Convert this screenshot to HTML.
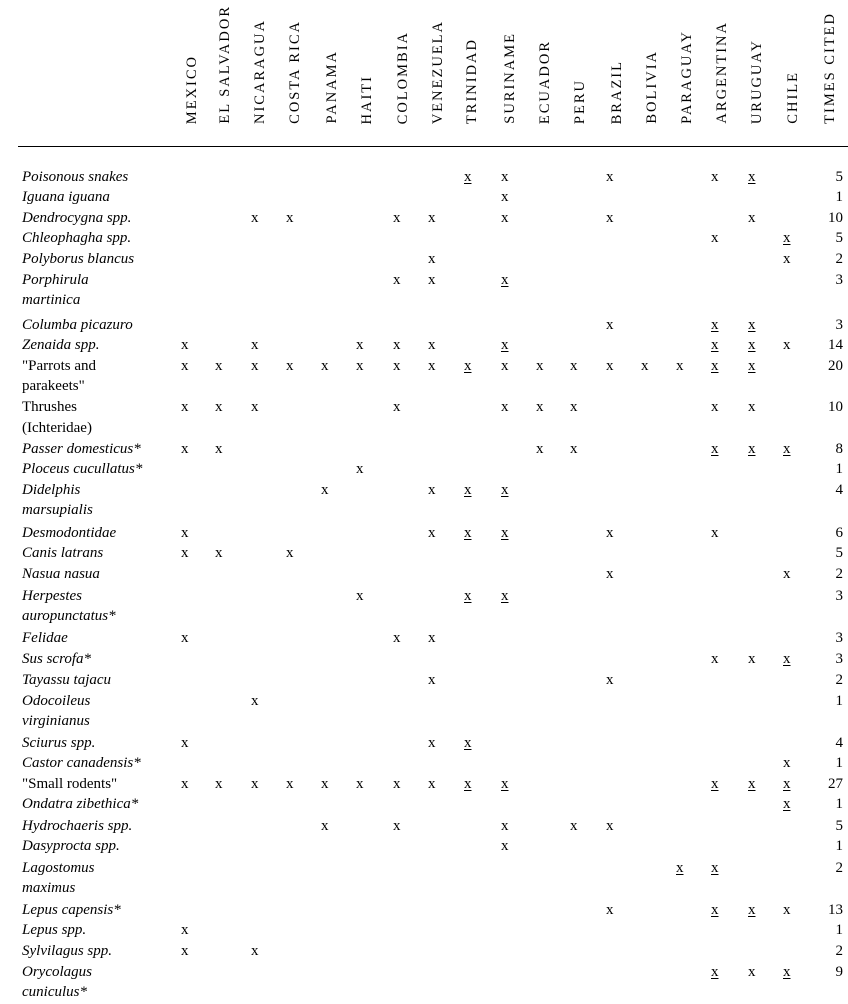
<!DOCTYPE html>
<html><head><meta charset="utf-8"><style>
body{margin:0;width:848px;height:1004px;background:#fff;position:relative;overflow:hidden;font-family:"Liberation Serif",serif;color:#000;font-size:15px}
.h{position:absolute;bottom:880px;writing-mode:vertical-rl;transform:rotate(180deg);font-size:14.5px;letter-spacing:2px;line-height:18px;white-space:nowrap;width:18px}
.r{position:absolute;left:0;width:848px;height:20px;line-height:20px}
.r span{position:absolute;top:0}
.l{left:22px;font-style:italic}
.n{left:22px}
.c{right:5px}
u{text-decoration:underline;text-underline-offset:2px}
</style></head><body>
<div class="h" style="left:183px">MEXICO</div>
<div class="h" style="left:216px">EL SALVADOR</div>
<div class="h" style="left:251px">NICARAGUA</div>
<div class="h" style="left:286px">COSTA RICA</div>
<div class="h" style="left:323px">PANAMA</div>
<div class="h" style="left:358px">HAITI</div>
<div class="h" style="left:394px">COLOMBIA</div>
<div class="h" style="left:429px">VENEZUELA</div>
<div class="h" style="left:463px">TRINIDAD</div>
<div class="h" style="left:501px">SURINAME</div>
<div class="h" style="left:536px">ECUADOR</div>
<div class="h" style="left:571px">PERU</div>
<div class="h" style="left:608px">BRAZIL</div>
<div class="h" style="left:643px">BOLIVIA</div>
<div class="h" style="left:678px">PARAGUAY</div>
<div class="h" style="left:713px">ARGENTINA</div>
<div class="h" style="left:748px">URUGUAY</div>
<div class="h" style="left:784px">CHILE</div>
<div class="h" style="left:821px">TIMES CITED</div>
<div style="position:absolute;left:18px;top:146px;width:830px;height:1px;background:#000"></div>

<div class="r" style="top:167px"><span class="l">Poisonous snakes</span><span style="left:464px"><u>x</u></span><span style="left:501px">x</span><span style="left:606px">x</span><span style="left:711px">x</span><span style="left:748px"><u>x</u></span><span class="c">5</span></div>
<div class="r" style="top:187px"><span class="l">Iguana iguana</span><span style="left:501px">x</span><span class="c">1</span></div>
<div class="r" style="top:208px"><span class="l">Dendrocygna spp.</span><span style="left:251px">x</span><span style="left:286px">x</span><span style="left:393px">x</span><span style="left:428px">x</span><span style="left:501px">x</span><span style="left:606px">x</span><span style="left:748px">x</span><span class="c">10</span></div>
<div class="r" style="top:228px"><span class="l">Chleophagha spp.</span><span style="left:711px">x</span><span style="left:783px"><u>x</u></span><span class="c">5</span></div>
<div class="r" style="top:249px"><span class="l">Polyborus blancus</span><span style="left:428px">x</span><span style="left:783px">x</span><span class="c">2</span></div>
<div class="r" style="top:270px"><span class="l">Porphirula</span><span style="left:393px">x</span><span style="left:428px">x</span><span style="left:501px"><u>x</u></span><span class="c">3</span></div>
<div class="r" style="top:290px"><span class="l">martinica</span></div>
<div class="r" style="top:315px"><span class="l">Columba picazuro</span><span style="left:606px">x</span><span style="left:711px"><u>x</u></span><span style="left:748px"><u>x</u></span><span class="c">3</span></div>
<div class="r" style="top:335px"><span class="l">Zenaida spp.</span><span style="left:181px">x</span><span style="left:251px">x</span><span style="left:356px">x</span><span style="left:393px">x</span><span style="left:428px">x</span><span style="left:501px"><u>x</u></span><span style="left:711px"><u>x</u></span><span style="left:748px"><u>x</u></span><span style="left:783px">x</span><span class="c">14</span></div>
<div class="r" style="top:356px"><span class="n">"Parrots and</span><span style="left:181px">x</span><span style="left:215px">x</span><span style="left:251px">x</span><span style="left:286px">x</span><span style="left:321px">x</span><span style="left:356px">x</span><span style="left:393px">x</span><span style="left:428px">x</span><span style="left:464px"><u>x</u></span><span style="left:501px">x</span><span style="left:536px">x</span><span style="left:570px">x</span><span style="left:606px">x</span><span style="left:641px">x</span><span style="left:676px">x</span><span style="left:711px"><u>x</u></span><span style="left:748px"><u>x</u></span><span class="c">20</span></div>
<div class="r" style="top:376px"><span class="n">parakeets"</span></div>
<div class="r" style="top:397px"><span class="n">Thrushes</span><span style="left:181px">x</span><span style="left:215px">x</span><span style="left:251px">x</span><span style="left:393px">x</span><span style="left:501px">x</span><span style="left:536px">x</span><span style="left:570px">x</span><span style="left:711px">x</span><span style="left:748px">x</span><span class="c">10</span></div>
<div class="r" style="top:418px"><span class="n">(Ichteridae)</span></div>
<div class="r" style="top:439px"><span class="l">Passer domesticus*</span><span style="left:181px">x</span><span style="left:215px">x</span><span style="left:536px">x</span><span style="left:570px">x</span><span style="left:711px"><u>x</u></span><span style="left:748px"><u>x</u></span><span style="left:783px"><u>x</u></span><span class="c">8</span></div>
<div class="r" style="top:459px"><span class="l">Ploceus cucullatus*</span><span style="left:356px">x</span><span class="c">1</span></div>
<div class="r" style="top:480px"><span class="l">Didelphis</span><span style="left:321px">x</span><span style="left:428px">x</span><span style="left:464px"><u>x</u></span><span style="left:501px"><u>x</u></span><span class="c">4</span></div>
<div class="r" style="top:500px"><span class="l">marsupialis</span></div>
<div class="r" style="top:523px"><span class="l">Desmodontidae</span><span style="left:181px">x</span><span style="left:428px">x</span><span style="left:464px"><u>x</u></span><span style="left:501px"><u>x</u></span><span style="left:606px">x</span><span style="left:711px">x</span><span class="c">6</span></div>
<div class="r" style="top:543px"><span class="l">Canis latrans</span><span style="left:181px">x</span><span style="left:215px">x</span><span style="left:286px">x</span><span class="c">5</span></div>
<div class="r" style="top:564px"><span class="l">Nasua nasua</span><span style="left:606px">x</span><span style="left:783px">x</span><span class="c">2</span></div>
<div class="r" style="top:586px"><span class="l">Herpestes</span><span style="left:356px">x</span><span style="left:464px"><u>x</u></span><span style="left:501px"><u>x</u></span><span class="c">3</span></div>
<div class="r" style="top:606px"><span class="l">auropunctatus*</span></div>
<div class="r" style="top:628px"><span class="l">Felidae</span><span style="left:181px">x</span><span style="left:393px">x</span><span style="left:428px">x</span><span class="c">3</span></div>
<div class="r" style="top:649px"><span class="l">Sus scrofa*</span><span style="left:711px">x</span><span style="left:748px">x</span><span style="left:783px"><u>x</u></span><span class="c">3</span></div>
<div class="r" style="top:670px"><span class="l">Tayassu tajacu</span><span style="left:428px">x</span><span style="left:606px">x</span><span class="c">2</span></div>
<div class="r" style="top:691px"><span class="l">Odocoileus</span><span style="left:251px">x</span><span class="c">1</span></div>
<div class="r" style="top:711px"><span class="l">virginianus</span></div>
<div class="r" style="top:733px"><span class="l">Sciurus spp.</span><span style="left:181px">x</span><span style="left:428px">x</span><span style="left:464px"><u>x</u></span><span class="c">4</span></div>
<div class="r" style="top:753px"><span class="l">Castor canadensis*</span><span style="left:783px">x</span><span class="c">1</span></div>
<div class="r" style="top:774px"><span class="n">"Small rodents"</span><span style="left:181px">x</span><span style="left:215px">x</span><span style="left:251px">x</span><span style="left:286px">x</span><span style="left:321px">x</span><span style="left:356px">x</span><span style="left:393px">x</span><span style="left:428px">x</span><span style="left:464px"><u>x</u></span><span style="left:501px"><u>x</u></span><span style="left:711px"><u>x</u></span><span style="left:748px"><u>x</u></span><span style="left:783px"><u>x</u></span><span class="c">27</span></div>
<div class="r" style="top:794px"><span class="l">Ondatra zibethica*</span><span style="left:783px"><u>x</u></span><span class="c">1</span></div>
<div class="r" style="top:816px"><span class="l">Hydrochaeris spp.</span><span style="left:321px">x</span><span style="left:393px">x</span><span style="left:501px">x</span><span style="left:570px">x</span><span style="left:606px">x</span><span class="c">5</span></div>
<div class="r" style="top:836px"><span class="l">Dasyprocta spp.</span><span style="left:501px">x</span><span class="c">1</span></div>
<div class="r" style="top:858px"><span class="l">Lagostomus</span><span style="left:676px"><u>x</u></span><span style="left:711px"><u>x</u></span><span class="c">2</span></div>
<div class="r" style="top:878px"><span class="l">maximus</span></div>
<div class="r" style="top:900px"><span class="l">Lepus capensis*</span><span style="left:606px">x</span><span style="left:711px"><u>x</u></span><span style="left:748px"><u>x</u></span><span style="left:783px">x</span><span class="c">13</span></div>
<div class="r" style="top:920px"><span class="l">Lepus spp.</span><span style="left:181px">x</span><span class="c">1</span></div>
<div class="r" style="top:941px"><span class="l">Sylvilagus spp.</span><span style="left:181px">x</span><span style="left:251px">x</span><span class="c">2</span></div>
<div class="r" style="top:962px"><span class="l">Orycolagus</span><span style="left:711px"><u>x</u></span><span style="left:748px">x</span><span style="left:783px"><u>x</u></span><span class="c">9</span></div>
<div class="r" style="top:982px"><span class="l">cuniculus*</span></div>
</body></html>
